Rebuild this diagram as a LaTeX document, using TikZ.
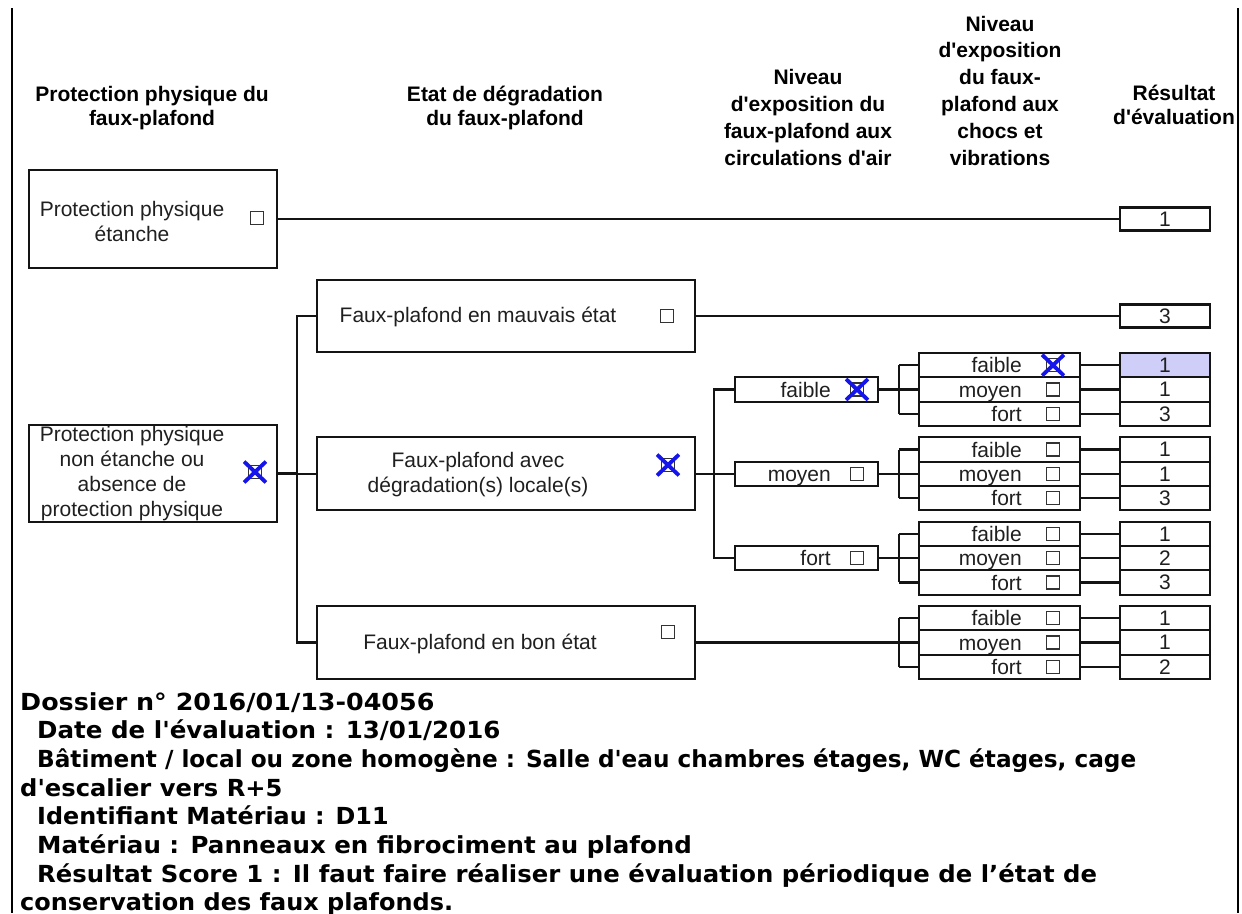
\documentclass[tikz,border=0pt]{standalone}
\usepackage{fontspec}
\setmainfont{Liberation Sans}
\newfontfamily\verdfont{DejaVu Sans}
\usetikzlibrary{shapes.misc}
\definecolor{selfill}{RGB}{206,206,248}
\definecolor{xblue}{RGB}{20,20,235}
\newcommand\ap{\textquotesingle}
\begin{document}
\begin{tikzpicture}[x=1pt,y=-1pt,
 frame/.style={draw=black!92, line width=2.2pt, inner sep=0pt, outer sep=0pt, anchor=north west},
 conn/.style={draw=black!92, line width=2.2pt},
 border/.style={draw=black, line width=2.6pt},
 chk/.style={draw=black!80, line width=1.2pt, minimum size=13pt, inner sep=0pt, outer sep=0pt},
 xmk/.style={cross out, draw=xblue, line width=3.8pt, minimum width=18pt, minimum height=17pt, inner sep=0pt},
 lbl/.style={font=\fontsize{21}{25}\selectfont, text=black!88, inner sep=0pt, align=center},
 rlbl/.style={font=\fontsize{21}{25}\selectfont, text=black!88, inner sep=0pt, anchor=base east},
 hdr/.style={font=\bfseries\fontsize{21}{23.5}\selectfont, inner sep=0pt, align=center},
 hdrw/.style={font=\bfseries\fontsize{21}{26.8}\selectfont, inner sep=0pt, align=center},
 foot/.style={font=\verdfont\bfseries\fontsize{23.5}{29}\selectfont, inner sep=0pt, anchor=base west},
 resfont/.style={font=\fontsize{21}{24}\selectfont, text=black!88}
]
\useasboundingbox (0,0) rectangle (1242,913);
% page side rules
\coordinate (lt) at (12,8); \coordinate (lb) at (12,913);
\coordinate (rt) at (1238,8); \coordinate (rb) at (1238,913);
\draw[border] (lt) -- (lb);
\draw[border] (rt) -- (rb);

% headers
\node[hdr] (h1) at (152,108) {Protection physique du\\faux-plafond};
\node[hdr] (h2) at (505,108) {Etat de dégradation\\du faux-plafond};
\node[hdrw] (h3) at (808,117.5) {Niveau\\d\ap exposition du\\faux-plafond aux\\circulations d\ap air};
\node[hdrw] (h4) at (1000,90.5) {Niveau\\d\ap exposition\\du faux-\\plafond aux\\chocs et\\vibrations};
\node[hdr] (h5) at (1174,105) {Résultat\\d\ap évaluation};

% level 1
\node[frame, minimum width=248pt, minimum height=98pt] (A) at (29,170) {};
\node[lbl] (tA) at (132,221) {Protection physique\\étanche};
\node[chk] (cA) at (257,218) {};
\node[frame, minimum width=248pt, minimum height=97pt] (B) at (29,425) {};
\node[lbl] (tB) at (132,474) {Protection physique\\non étanche ou\\absence de\\protection physique};
\node[chk] (cB) at (255,472) {};
\node[xmk] (xB) at (255,472) {};

% level 2
\node[frame, minimum width=378pt, minimum height=72pt] (C) at (317,280) {};
\node[lbl] (tC) at (478,317) {Faux-plafond en mauvais état};
\node[chk] (cC) at (667,316) {};
\node[frame, minimum width=378pt, minimum height=73pt] (D) at (317,437.33) {};
\node[lbl] (tD) at (478,474.5) {Faux-plafond avec\\dégradation(s) locale(s)};
\node[chk] (cD) at (668,465) {};
\node[xmk] (xD) at (668,465) {};
\node[frame, minimum width=378pt, minimum height=73pt] (E) at (317,606) {};
\node[lbl] (tE) at (480,644) {Faux-plafond en bon état};
\node[chk] (cE) at (668,632) {};

% single results
\node[frame, resfont, minimum width=90pt, minimum height=23pt, anchor=center] (RA) at (1165,219) {1};
\node[frame, resfont, minimum width=90pt, minimum height=23pt, anchor=center] (RC) at (1165,316) {3};

% bus lines
\coordinate (bus1) at (297,0);
\coordinate (bus2) at (714,0);
\coordinate (br) at (899,0);
\draw[conn] (A.east) -- (A.east -| RA.west);
\draw[conn] (C.east) -- (C.east -| RC.west);
\draw[conn] (B.east) -- (B.east -| bus1);
\draw[conn] (C.west) -- (C.west -| bus1) -- (E.west -| bus1) -- (E.west);
\draw[conn] (D.west) -- (D.west -| bus1);

% level 3
\foreach \k/\lab in {0/faible,1/moyen,2/fort}{
  \pgfmathsetmacro{\T}{353+84.33*\k}
  \node[frame, minimum width=143pt, minimum height=24.33pt] (M\k) at (735,\T+24.33) {};
  \node[rlbl] (tM\k) at (831,\T+44) {\lab};
  \node[chk] (cM\k) at (857,\T+36.5) {};
}
\node[xmk] (xM0) at (857,389.5) {};
\draw[conn] (D.east) -- (D.east -| bus2);
\draw[conn] (M0.west) -- (M0.west -| bus2) -- (M2.west -| bus2) -- (M2.west);
\draw[conn] (M1.west) -- (M1.west -| bus2);

% level 4 and results
\foreach \k/\a/\b/\c in {0/1/1/3,1/1/1/3,2/1/2/3,3/1/1/2}{
  \pgfmathsetmacro{\T}{353+84.33*\k}
  \foreach \i/\v/\lab in {0/\a/faible,1/\b/moyen,2/\c/fort}{
    \pgfmathsetmacro{\Y}{\T+24.33*\i}
    \node[frame, minimum width=161pt, minimum height=24.33pt] (L-\k-\i) at (919,\Y) {};
    \node[rlbl] (tL-\k-\i) at (1022,\Y+19.7) {\lab};
    \node[chk] (cL-\k-\i) at (1053,\Y+12.17) {};
    \node[frame, resfont, minimum width=90pt, minimum height=24.33pt] (R-\k-\i) at (1120,\Y) {\v};
    \draw[conn] (L-\k-\i.east) -- (R-\k-\i.west);
    \draw[conn] (L-\k-\i.west) -- (L-\k-\i.west -| br);
  }
  \draw[conn] (L-\k-0.west -| br) -- (L-\k-2.west -| br);
}
\node[frame, fill=selfill, resfont, minimum width=90pt, minimum height=24.33pt] (R-0-0s) at (1120,353) {1};
\node[xmk] (xL) at (1053,365.2) {};
\draw[conn] (M0.east) -- (M0.east -| br);
\draw[conn] (M1.east) -- (M1.east -| br);
\draw[conn] (M2.east) -- (M2.east -| br);
\draw[conn] (E.east) -- (E.east -| br);

% footer text
\node[foot] (f1) at (20,710) {\scalebox{1.08}[1]{Dossier n° 2016/01/13-04056}};
\node[foot] (f2) at (37,738.7) {\scalebox{1.045}[1]{Date de l\ap évaluation : 13/01/2016}};
\node[foot] (f3) at (37,767.4) {\scalebox{0.986}[1]{Bâtiment / local ou zone homogène : Salle d\ap eau chambres étages, WC étages, cage}};
\node[foot] (f4) at (20,796.1) {\scalebox{1.03}[1]{d\ap escalier vers R+5}};
\node[foot] (f5) at (37,824.8) {\scalebox{1.015}[1]{Identifiant Matériau : D11}};
\node[foot] (f6) at (37,853.5) {\scalebox{1.043}[1]{Matériau : Panneaux en fibrociment au plafond}};
\node[foot] (f7) at (37,882.2) {\scalebox{1.036}[1]{Résultat Score 1 : Il faut faire réaliser une évaluation périodique de l’état de}};
\node[foot] (f8) at (20,910.9) {\scalebox{1.02}[1]{conservation des faux plafonds.}};
\end{tikzpicture}
\end{document}
